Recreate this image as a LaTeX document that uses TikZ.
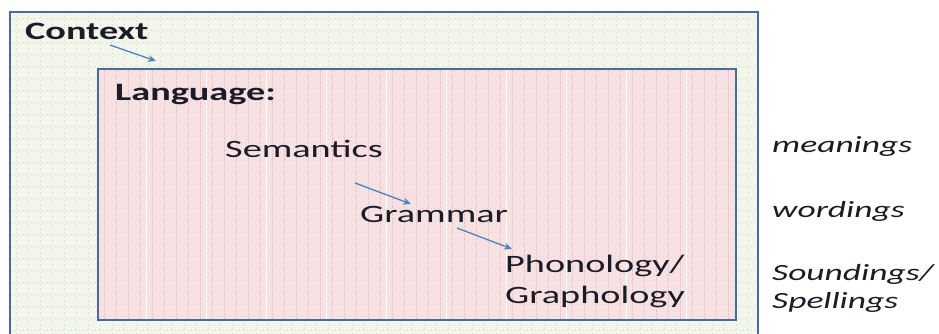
\documentclass[tikz,border=0pt]{standalone}
\usepackage{fontspec}
\setmainfont{Carlito}[FakeStretch=1.53]
\usetikzlibrary{arrows.meta}
\definecolor{frameblue}{HTML}{4A6B9A}
\definecolor{arrowblue}{HTML}{4F81BD}
\definecolor{outerfill}{HTML}{F3F6EC}
\definecolor{outergrid}{HTML}{DCE6C8}
\definecolor{innerfill}{HTML}{F6E2E2}
\definecolor{innergrid}{HTML}{EEC4C8}
\definecolor{inkcol}{HTML}{1C1C28}
\tikzset{
  frame/.style={draw=frameblue, line width=2.8pt},
  lbl/.style={text=inkcol, inner sep=0pt, anchor=base west, font=\fontsize{25}{31}\selectfont},
  headlbl/.style={lbl, font=\fontsize{25}{31}\selectfont\bfseries},
  sidelbl/.style={lbl, font=\fontsize{23.2}{28}\selectfont\itshape},
  flow/.style={draw=arrowblue, line width=1.3pt, -{Stealth[length=8pt,width=7pt]}}
}
\begin{document}
\begin{tikzpicture}[x=1pt,y=-1pt]
\useasboundingbox (0,0) rectangle (939,333);
\clip (0,0) rectangle (939,333);
% outer context box with faint green grid texture
\fill[outerfill] (10,12) rectangle (758,345);
\begin{scope}
  \clip (10,12) rectangle (758,345);
  \foreach \gx in {16,28,...,758} \draw[outergrid, line width=0.5pt, dash pattern=on 2pt off 2pt] (\gx,12) -- (\gx,345);
  \foreach \gy in {18,30,...,345} \draw[outergrid, line width=0.5pt, dash pattern=on 2pt off 2pt] (10,\gy) -- (758,\gy);
\end{scope}
\draw[frame] (10,12) rectangle (758,345);
% inner language box with pink grid texture
\fill[innerfill] (98,69) rectangle (736,320);
\begin{scope}
  \clip (98,69) rectangle (736,320);
  \foreach \gx in {104,116,...,736} \draw[innergrid, line width=0.8pt, dash pattern=on 3pt off 1pt] (\gx,69) -- (\gx,320);
  \foreach \gy in {76,88,...,320} \draw[innergrid!70, line width=0.5pt, dash pattern=on 2pt off 2pt] (98,\gy) -- (736,\gy);
  \foreach \gx in {146,206,...,736} \draw[white, line width=1pt] (\gx,69) -- (\gx,320);
\end{scope}
\draw[frame] (98,69) rectangle (736,320);
% labels
\node[headlbl] (ctx) at (25,39) {Context};
\node[headlbl] (lang) at (115,100) {Language:};
\node[lbl] (sem) at (225,157) {Semantics};
\node[lbl] (gram) at (360,222) {Grammar};
\node[lbl] (phon) at (505,272) {Phonology/};
\node[lbl] (graph) at (505,303) {Graphology};
\node[sidelbl] (mean) at (772,152) {meanings};
\node[sidelbl] (word) at (772,217) {wordings};
\node[sidelbl] (sound) at (772,280) {Soundings/};
\node[sidelbl] (spell) at (772,308) {Spellings};
% arrows between levels
\coordinate (c1) at (110,45); \coordinate (c2) at (156,61);
\coordinate (s1) at (355,183); \coordinate (s2) at (411,204);
\coordinate (g1) at (457,228); \coordinate (g2) at (512,249);
\draw[flow] (c1) -- (c2);
\draw[flow] (s1) -- (s2);
\draw[flow] (g1) -- (g2);
\end{tikzpicture}
\end{document}
